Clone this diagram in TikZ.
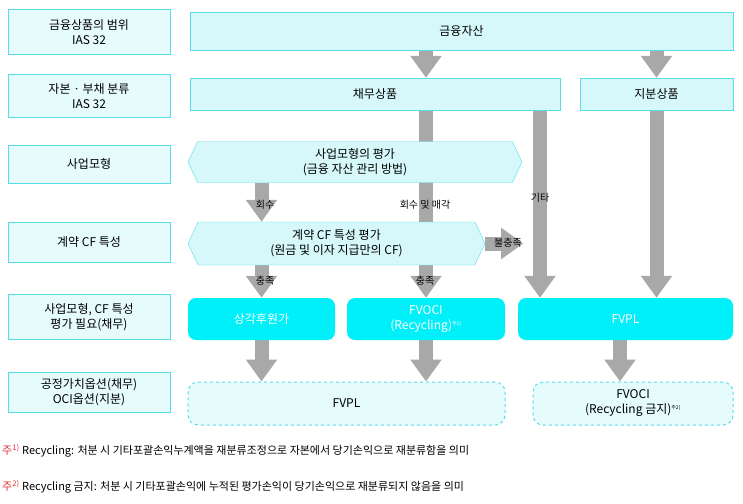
\documentclass[tikz,border=0pt]{standalone}
\usepackage{fontspec}
\setmainfont{Noto Sans CJK KR}
\usetikzlibrary{positioning,arrows.meta,shapes.symbols}
\pgfdeclarelayer{bg}
\pgfsetlayers{bg,main}
\definecolor{lcyan}{HTML}{D6F8FA}
\definecolor{bcyan}{HTML}{00F0FA}
\definecolor{ecyan}{HTML}{55DDEA}
\definecolor{agray}{HTML}{A8A8A8}
\definecolor{nred}{HTML}{E03030}
\tikzset{
	>={Triangle[width=30pt,length=22pt]}
}
\begin{document}
\begin{tikzpicture}[
x=1pt, y=-1pt,
every node/.style = {
	font = \fontsize{12}{15}\selectfont,
	align=center,
	inner sep=0pt
},
level/.style = {
	rectangle,
	draw=ecyan,
	fill=lcyan!60,
	minimum width=162pt
},
class/.style = {
	rectangle,
	draw=ecyan,
	fill=lcyan
},
test/.style = {
	signal, signal to=west and east,
	draw=ecyan,
	fill=lcyan,
	signal pointer angle=130
},
result/.style = {
	rectangle, rounded corners=8pt,
	fill=bcyan,
	text=white
},
option/.style = {
	rectangle, rounded corners=10pt,
	draw=ecyan, dashed, line width=1pt,
	fill=lcyan!60
},
flow/.style = {
	->, draw=agray, line width=14pt
},
tag/.style = {
	font = \fontsize{10}{12}\selectfont
}
]
\useasboundingbox (0,0) rectangle (743,503);

% left column
\node (scope) [level, minimum height=45pt] at (89,32) {금융상품의 범위\\IAS 32};
\node (split) [level, minimum height=43pt] at (89,96) {자본 · 부채 분류\\IAS 32};
\node (model) [level, minimum height=38pt] at (89,164) {사업모형};
\node (cfchar) [level, minimum height=40pt] at (89,242) {계약 CF 특성};
\node (need) [level, minimum height=45pt] at (89,317) {사업모형, CF 특성\\평가 필요(채무)};
\node (opt) [level, minimum height=40pt] at (89,392) {공정가치옵션(채무)\\OCI옵션(지분)};

% classification
\node (asset) [class, minimum width=543pt, minimum height=38pt] at (461.5,31) {금융자산};
\node (debt) [class, minimum width=370pt, minimum height=32pt] at (375,94) {채무상품};
\node (equity) [class, minimum width=153pt, minimum height=32pt] at (656.5,94) {지분상품};

\node (bmtest) [test, minimum width=334pt, minimum height=41pt] at (355,162) {사업모형의 평가\\(금융 자산 관리 방법)};
\node (spptest) [test, minimum width=297pt, minimum height=43pt] at (336.5,243.5) {계약 CF 특성 평가\\(원금 및 이자 지급만의 CF)};

\node (amort) [result, minimum width=147pt, minimum height=42pt] at (261.5,319) {상각후원가};
\node (fvoci) [result, minimum width=158pt, minimum height=42pt] at (426,319) {FVOCI\\(Recycling)\textsuperscript{\tiny 주1)}};
\node (fvpl) [result, minimum width=215pt, minimum height=42pt] at (625.5,319) {FVPL};

\node (fvplopt) [option, minimum width=317pt, minimum height=43pt] at (346.5,403.5) {FVPL};
\node (fvociopt) [option, minimum width=200pt, minimum height=43pt] at (633,403.5) {FVOCI\\(Recycling 금지)\textsuperscript{\tiny 주2)}};

\begin{pgfonlayer}{bg}
\draw[flow] (asset.south -| fvoci) -- (debt.north -| fvoci);
\draw[flow] (asset.south -| equity) -- (equity.north);
\draw[flow] (debt.south -| fvoci) -- (fvoci.north);
\draw[flow] (debt.south -| 540,0) -- (fvpl.north -| 540,0);
\draw[flow] (equity.south) -- (fvpl.north -| equity);
\draw[flow] (bmtest.south -| amort) -- (spptest.north -| amort);
\draw[flow] (spptest.south -| amort) -- (amort.north);
\draw[flow] (spptest.east) -- ++(38,0);
\draw[flow] (amort.south) -- (fvplopt.north -| amort);
\draw[flow] (fvoci.south) -- (fvplopt.north -| fvoci);
\draw[flow] (fvpl.south -| 620,0) -- (fvociopt.north -| 620,0);
\end{pgfonlayer}

\node [tag] at (265,205) {회수};
\node [tag] at (265,281) {충족};
\node [tag] at (425,205) {회수 및 매각};
\node [tag] at (425,281) {충족};
\node [tag] at (540,198) {기타};
\node [tag] at (508,243) {불충족};

% notes
\node [anchor=west, font=\fontsize{11}{13}\selectfont] at (2,451) {\textcolor{nred}{주\textsuperscript{1)}} Recycling: 처분 시 기타포괄손익누계액을 재분류조정으로 자본에서 당기손익으로 재분류함을 의미};
\node [anchor=west, font=\fontsize{11}{13}\selectfont] at (2,487) {\textcolor{nred}{주\textsuperscript{2)}} Recycling 금지: 처분 시 기타포괄손익에 누적된 평가손익이 당기손익으로 재분류되지 않음을 의미};
\end{tikzpicture}
\end{document}
